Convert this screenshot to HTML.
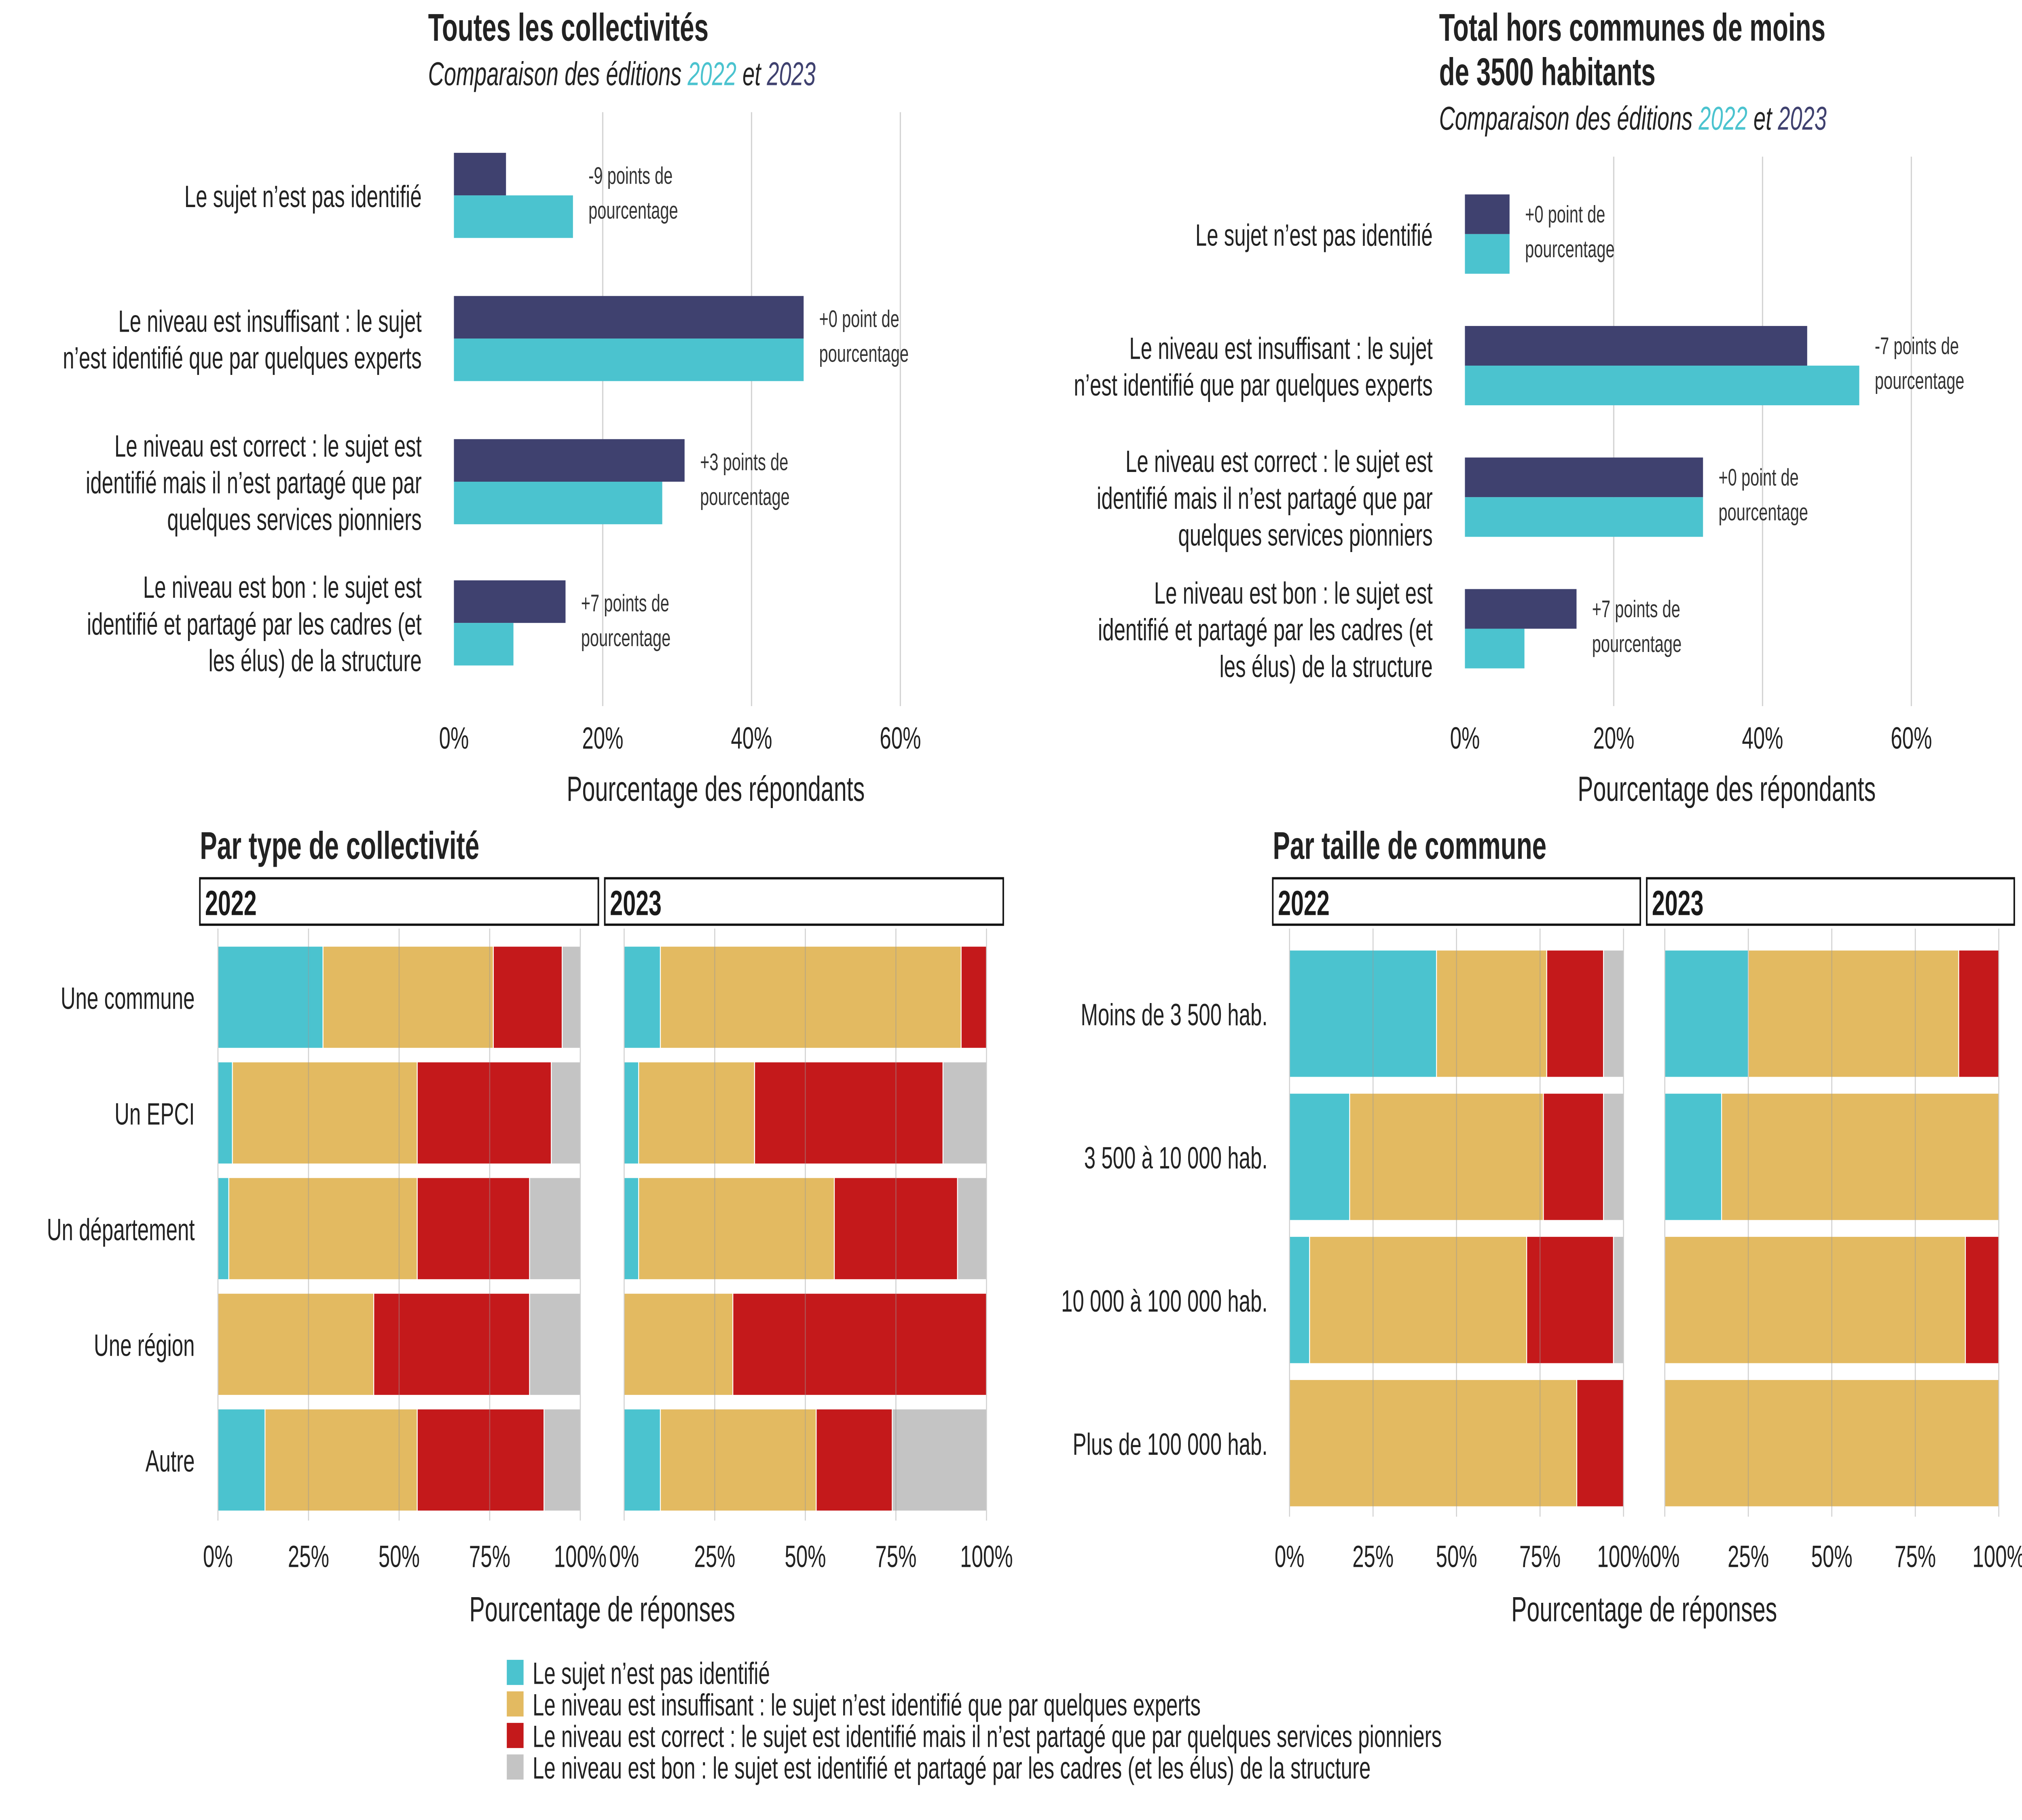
<!DOCTYPE html>
<html><head><meta charset="utf-8"><style>
html,body{margin:0;padding:0;background:#fff;overflow:hidden;width:100vw;height:100vh}
svg{display:block;font-family:"Liberation Sans",sans-serif;width:100vw;height:100vh}
</style></head><body>
<svg id="c" viewBox="0 0 1568 940.8" preserveAspectRatio="none" xmlns="http://www.w3.org/2000/svg"></svg>
<script>
// ---- data ----
const topCats = [["Le sujet n’est pas identifié"],["Le niveau est insuffisant : le sujet","n’est identifié que par quelques experts"],["Le niveau est correct : le sujet est","identifié mais il n’est partagé que par","quelques services pionniers"],["Le niveau est bon : le sujet est","identifié et partagé par les cadres (et","les élus) de la structure"]];
const allVal2023 = [7,47,31,15];
const allVal2022 = [16,47,28,8];
const allDiff = ["-9 points de","+0 point de","+3 points de","+7 points de"];
const horsVal2023 = [6,46,32,15];
const horsVal2022 = [6,53,32,8];
const horsDiff = ["+0 point de","-7 points de","+0 point de","+7 points de"];
const topTicks = [0,20,40,60];
const pctTicks = [0,25,50,75,100];
const typeCats = ["Une commune","Un EPCI","Un département","Une région","Autre"];
// segments: pas identifié, insuffisant, correct, bon
const type2022 = [[29,47,19,5],[4,51,37,8],[3,52,31,14],[0,43,43,14],[13,42,35,10]];
const type2023 = [[10,83,7,0],[4,32,52,12],[4,54,34,8],[0,30,70,0],[10,43,21,26]];
const sizeCats = ["Moins de 3 500 hab.","3 500 à 10 000 hab.","10 000 à 100 000 hab.","Plus de 100 000 hab."];
const size2022 = [[44,33,17,6],[18,58,18,6],[6,65,26,3],[0,86,14,0]];
const size2023 = [[25,63,12,0],[17,83,0,0],[0,90,10,0],[0,100,0,0]];
const legendLabels = ["Le sujet n’est pas identifié","Le niveau est insuffisant : le sujet n’est identifié que par quelques experts","Le niveau est correct : le sujet est identifié mais il n’est partagé que par quelques services pionniers","Le niveau est bon : le sujet est identifié et partagé par les cadres (et les élus) de la structure"];

const COLS = ["#4bc3cf","#e3ba61","#c4191b","#c4c4c4"];
const DARK = "#3f416f", TXT = "#222";
const svg = document.getElementById('c');
const NS = "http://www.w3.org/2000/svg";
function mk(tag, attrs, parent){const e=document.createElementNS(NS,tag);for(const k in attrs)e.setAttribute(k,attrs[k]);(parent||svg).appendChild(e);return e;}
function txt(x,y,s,attrs,parent){const t=mk('text',Object.assign({x:x,y:y,fill:TXT},attrs),parent);t.textContent=s;return t;}

// ---- top charts ----
function topChart(name, x0, titleLines, subY, catYs, v23, v22, diffs, barH){
  const g = mk('g',{});
  
  
  const sx = v => x0 + v*5.77;
  topTicks.forEach(t=>{
    if(t>0){const l=mk('line',{x1:sx(t),x2:sx(t),y1:58+(subY-38),y2:365,stroke:"#d4d4d4","stroke-width":1},g);
    }
    const tl=txt(sx(t),387,t+"%",{"font-size":16,"text-anchor":"middle"},g);
    
  });
  titleLines.forEach((s,i)=>{const t=txt(x0-20,21+i*23,s,{"font-size":20,"font-weight":"bold"},g);
    });
  const st=mk('text',{x:x0-20,y:subY+6,"font-size":17,"font-style":"italic",fill:TXT},g);
  
  st.innerHTML='Comparaison des éditions <tspan fill="'+COLS[0]+'">2022</tspan> et <tspan fill="'+DARK+'">2023</tspan>';
  topCats.forEach((lines,i)=>{
    const cy=catYs[i];
    const r1=mk('rect',{x:x0,y:cy-barH,width:sx(v23[i])-x0,height:barH,fill:DARK},g);
    
    const r2=mk('rect',{x:x0,y:cy,width:sx(v22[i])-x0,height:barH,fill:COLS[0]},g);
    
    const ax=sx(Math.max(v23[i],v22[i]))+12;
    const a1=txt(ax,cy-6,diffs[i],{"font-size":12.5,fill:"#333"},g);
    
    const a2=txt(ax,cy+12,"pourcentage",{"font-size":12.5,fill:"#333"},g);
    
    const n=lines.length;
    lines.forEach((s,j)=>{const t=txt(x0-25,cy+6+(j-(n-1)/2)*19,s,{"font-size":16,"text-anchor":"end"},g);
      });
  });
  const at=txt(x0+203,414,"Pourcentage des répondants",{"font-size":18,"text-anchor":"middle"},g);
  
}
topChart('chart-all', 352, ["Toutes les collectivités"], 38, [101,175,249,322], allVal2023, allVal2022, allDiff, 22);
topChart('chart-hors', 1136, ["Total hors communes de moins","de 3500 habitants"], 61, [121,189,257,325], horsVal2023, horsVal2022, horsDiff, 20.5);

// ---- bottom facet charts ----
function facet(name, year, stripX, stripW, x0, x1, rowTop, rowStep, barH, data, cats, labelX, yBot){
  const g=mk('g',{});
  
  
  const sx=v=>x0+(x1-x0)*v/100;
  const strip=mk('rect',{x:stripX,y:454,width:stripW,height:24,fill:"#fff",stroke:"#111","stroke-width":1.2},g);
  
  const sl=txt(stripX+4,473,year,{"font-size":18,"font-weight":"bold",fill:"#1a1a1a"},g);
  
  data.forEach((segs,i)=>{
    const y=rowTop+i*rowStep; let acc=0;
    segs.forEach((v,k)=>{
      if(v>0){const r=mk('rect',{x:sx(acc),y:y,width:sx(acc+v)-sx(acc),height:barH,fill:COLS[k],stroke:"#fff","stroke-width":0.7},g);
        }
      acc+=v;
    });
    if(labelX){const t=txt(labelX,y+barH/2+6,cats[i],{"font-size":16,"text-anchor":"end"},g);
      }
  });
  pctTicks.forEach(t=>{
    const l=mk('line',{x1:sx(t),x2:sx(t),y1:480,y2:yBot,stroke:"#999","stroke-width":0.8,"stroke-opacity":0.45},g);
    
    const tl=txt(sx(t),810,t+"%",{"font-size":16,"text-anchor":"middle"},g);
    
  });
}
facet('facet-type-2022','2022',155,309,169,450,489,59.8,53,type2022,typeCats,151,786);
facet('facet-type-2023','2023',469,309,484,765,489,59.8,53,type2023,typeCats,0,786);
facet('facet-size-2022','2022',987,285,1000,1259,491,74,66,size2022,sizeCats,983,784);
facet('facet-size-2023','2023',1277,285,1291,1550,491,74,66,size2023,sizeCats,0,784);

[["Par type de collectivité",155,"title-type"],["Par taille de commune",987,"title-size"]].forEach(a=>{
  const t=txt(a[1],444,a[0],{"font-size":20,"font-weight":"bold"});
  
});
[[467],[1275]].forEach(a=>{
  const t=txt(a[0],838,"Pourcentage de réponses",{"font-size":18,"text-anchor":"middle"});
  
});

// ---- legend ----
legendLabels.forEach((s,i)=>{
  const y=858+i*16.3;
  const r=mk('rect',{x:393,y:y,width:13,height:13,fill:COLS[i]});
  
  const t=txt(413,y+12.5,s,{"font-size":16});
  
});
</script>
</body></html>
